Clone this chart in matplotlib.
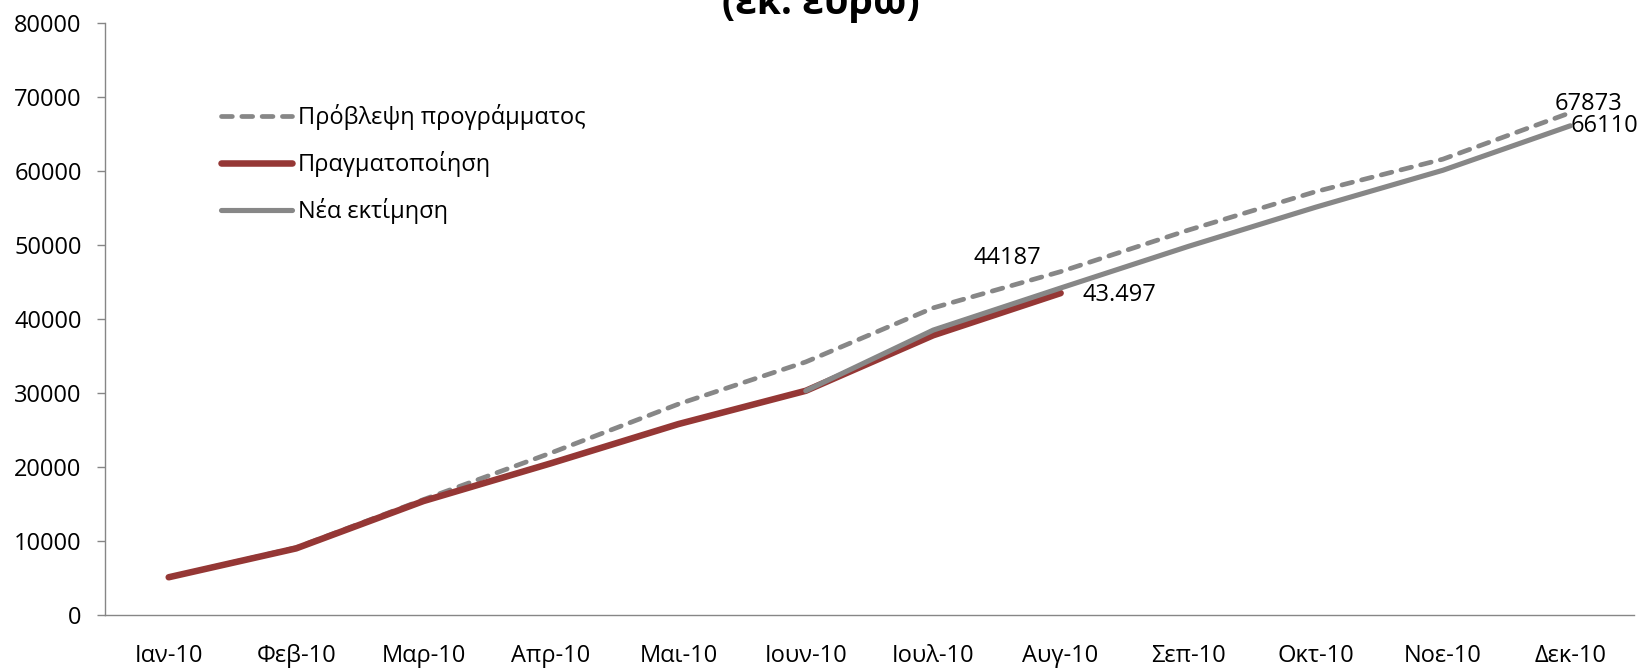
import matplotlib
matplotlib.use("Agg")
import matplotlib.pyplot as plt
import numpy as np

plt.rcParams['font.family'] = ['Open Sans', 'DejaVu Sans']

months = ['Ιαν-10', 'Φεβ-10', 'Μαρ-10', 'Απρ-10', 'Μαι-10', 'Ιουν-10',
          'Ιουλ-10', 'Αυγ-10', 'Σεπ-10', 'Οκτ-10', 'Νοε-10', 'Δεκ-10']
forecast = [5100, 9100, 15600, 21900, 28500, 34200, 41500, 46400, 52000, 57200, 61600, 67873]
realized = [5100, 9000, 15400, 20500, 25800, 30300, 37800, 43497]
new_est = [np.nan, np.nan, np.nan, np.nan, np.nan, 30300, 38500, 44187, 49800, 55100, 60100, 66110]
yticks = [0, 10000, 20000, 30000, 40000, 50000, 60000, 70000, 80000]

label_forecast = 'Πρόβλεψη προγράμματος'
label_realized = 'Πραγματοποίηση'
label_new = 'Νέα εκτίμηση'
title_text = '(εκ. ευρώ)'

W, H = 1638, 669
fig = plt.figure(figsize=(W / 100, H / 100), dpi=100)
ax = fig.add_axes([105 / W, 1 - 615 / H, (1634 - 105) / W, (615 - 23) / H])

x_all = np.arange(len(months))
grey = '#878787'
red = '#953735'

l1, = ax.plot(x_all, forecast, color=grey, lw=3.4, dash_capstyle='round',
              solid_joinstyle='round', dash_joinstyle='round', label=label_forecast, zorder=2)
l1.set_dashes((2.3, 2.0))
l2, = ax.plot(x_all[:len(realized)], realized, color=red, lw=4.7, solid_capstyle='round',
              solid_joinstyle='round', label=label_realized, zorder=3)
l3, = ax.plot(x_all, new_est, color=grey, lw=3.7, solid_capstyle='round',
              solid_joinstyle='round', label=label_new, zorder=4)

ax.set_xlim(-0.5, len(months) - 0.5)
ax.set_ylim(yticks[0], yticks[-1])
ax.set_yticks(yticks)
ax.set_yticklabels([str(v) for v in yticks])
ax.set_xticks(x_all)
ax.set_xticklabels(months)

for s in ['top', 'right']:
    ax.spines[s].set_visible(False)
for s in ['left', 'bottom']:
    ax.spines[s].set_color('#868686')
    ax.spines[s].set_linewidth(1.0)

ax.tick_params(axis='y', length=5.8, width=1.0, color='#868686', pad=11, labelsize=17)
ax.tick_params(axis='x', length=0, pad=21, labelsize=17)

# data labels
fs = 17
ax.annotate('44187', xy=(7, new_est[7]), xytext=(-38, 21.5), textcoords='offset points',
            ha='center', va='center', fontsize=fs)
ax.annotate('43.497', xy=(7, realized[7]), xytext=(16, -1), textcoords='offset points',
            ha='left', va='center', fontsize=fs)
ax.annotate(str(forecast[-1]), xy=(11, forecast[-1]), xytext=(13, 6.3), textcoords='offset points',
            ha='center', va='center', fontsize=fs)
ax.annotate(str(new_est[-1]), xy=(11, new_est[-1]), xytext=(0.5, -0.5), textcoords='offset points',
            ha='left', va='center', fontsize=fs)

leg = ax.legend(handles=[l1, l2, l3], loc='upper left',
                bbox_to_anchor=(221 / W, 1 - 104 / H), bbox_transform=fig.transFigure,
                frameon=False, fontsize=17, handlelength=3.0, handletextpad=0.25,
                labelspacing=0.9, borderpad=0, borderaxespad=0)

fig.text(0.501, 1 - 14 / H, title_text, ha='center', va='baseline',
         fontsize=28, fontweight='bold')

fig.savefig('out.png', dpi=100)
